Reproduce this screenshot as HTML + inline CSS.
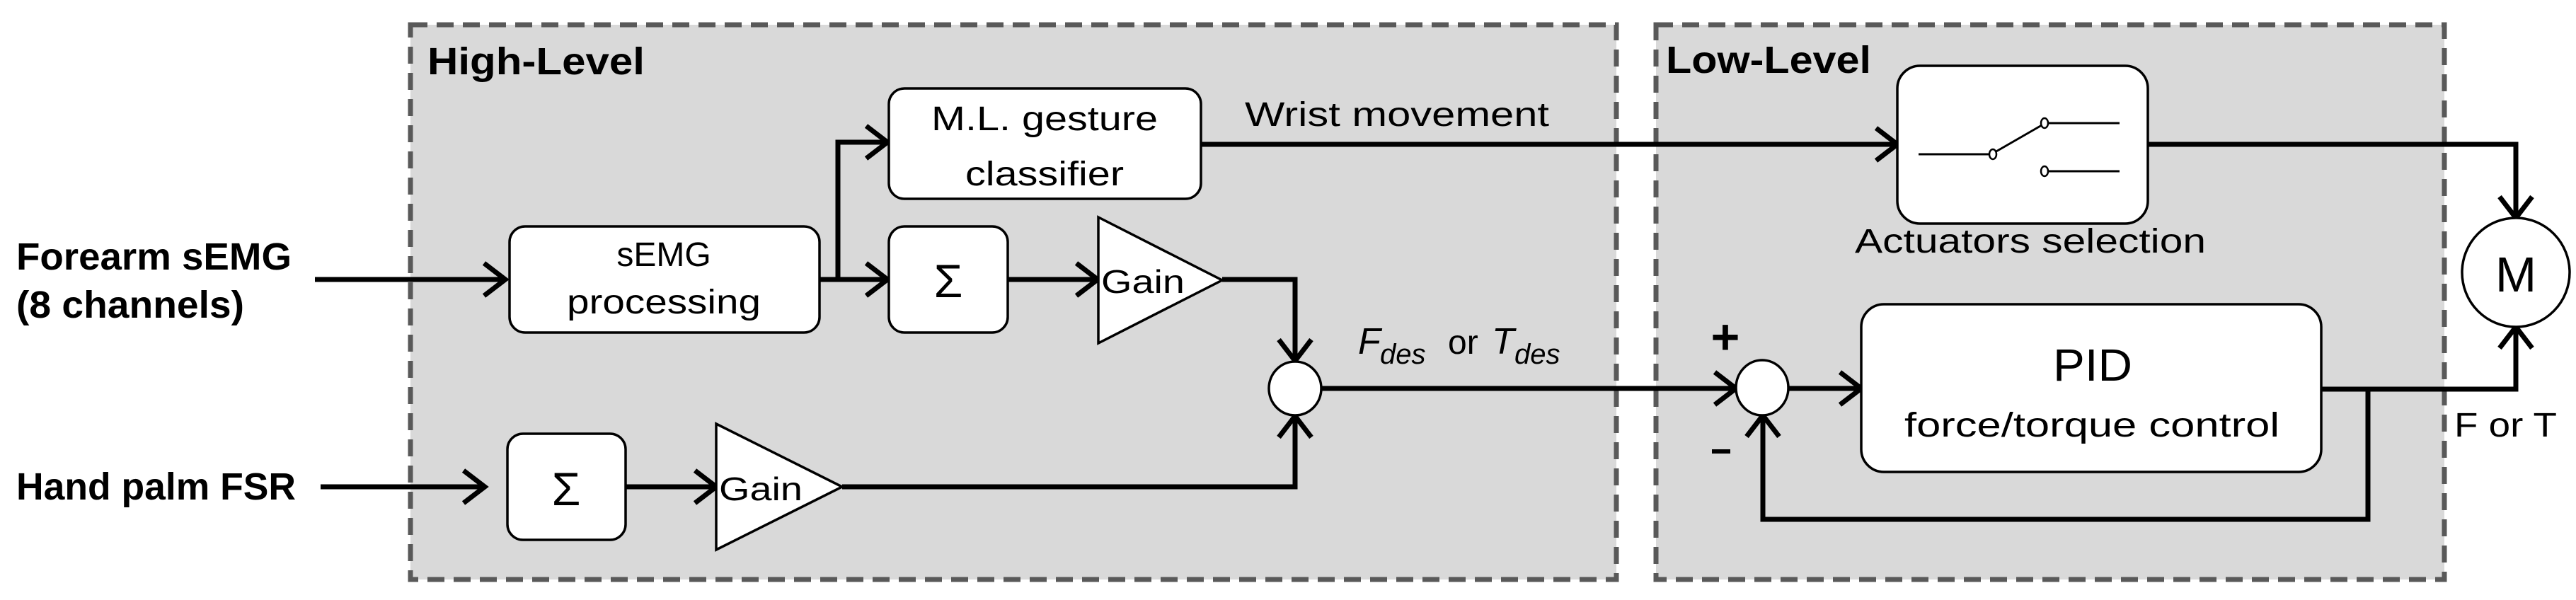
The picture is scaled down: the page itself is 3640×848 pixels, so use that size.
<!DOCTYPE html>
<html><head><meta charset="utf-8"><style>
html,body{margin:0;padding:0;background:#fff;}
svg{display:block;}
text{font-family:"Liberation Sans",sans-serif;fill:#000;}
</style></head><body>
<svg width="3640" height="848" viewBox="0 0 3640 848" xmlns="http://www.w3.org/2000/svg">
<!-- panels -->
<rect x="580" y="35" width="1704" height="784" fill="#d9d9d9" stroke="#595959" stroke-width="7" stroke-dasharray="24,13"/>
<rect x="2340" y="35" width="1114" height="784" fill="#d9d9d9" stroke="#595959" stroke-width="7" stroke-dasharray="24,13"/>
<text x="604" y="105" font-size="54" font-weight="bold" textLength="307" lengthAdjust="spacingAndGlyphs">High-Level</text>
<text x="2354" y="103" font-size="54" font-weight="bold" textLength="290" lengthAdjust="spacingAndGlyphs">Low-Level</text>

<!-- left labels -->
<text x="23" y="381" font-size="54" font-weight="bold" textLength="389" lengthAdjust="spacingAndGlyphs">Forearm sEMG</text>
<text x="23" y="449" font-size="54" font-weight="bold" textLength="322" lengthAdjust="spacingAndGlyphs">(8 channels)</text>
<text x="23" y="706" font-size="54" font-weight="bold" textLength="395" lengthAdjust="spacingAndGlyphs">Hand palm FSR</text>

<g fill="none" stroke="#000" stroke-width="7" stroke-linejoin="miter">
<!-- connectors -->
<line x1="445" y1="395" x2="714" y2="395"/>
<polyline points="1158,395 1250,395"/>
<polyline points="1184,395 1184,201 1250,201"/>
<line x1="1424" y1="395" x2="1548" y2="395"/>
<polyline points="1727,395 1830,395 1830,506"/>
<line x1="453" y1="688" x2="683" y2="688"/>
<line x1="884" y1="688" x2="1008" y2="688"/>
<polyline points="1190,688 1830,688 1830,592"/>
<line x1="1866" y1="549" x2="2449" y2="549"/>
<line x1="1697" y1="204" x2="2677" y2="204"/>
<polyline points="3035,204 3555,204 3555,304"/>
<line x1="2528" y1="549" x2="2626" y2="549"/>
<polyline points="3280,550 3555,550 3555,466"/>
<polyline points="3346,550 3346,734 2491,734 2491,592"/>
<!-- arrowheads -->
<polyline points="684,372 714,395 684,418"/>
<polyline points="1224,372 1254,395 1224,418"/>
<polyline points="1224,178 1254,201 1224,224"/>
<polyline points="1521,372 1551,395 1521,418"/>
<polyline points="1807,480 1830,510 1853,480"/>
<polyline points="655,665 685,688 655,711"/>
<polyline points="982,665 1012,688 982,711"/>
<polyline points="1807,618 1830,588 1853,618"/>
<polyline points="2423,526 2453,549 2423,572"/>
<polyline points="2651,181 2681,204 2651,227"/>
<polyline points="3532,278 3555,308 3578,278"/>
<polyline points="2600,526 2630,549 2600,572"/>
<polyline points="3532,492 3555,462 3578,492"/>
<polyline points="2468,617 2491,587 2514,617"/>
</g>

<!-- boxes -->
<g fill="#fff" stroke="#000" stroke-width="3.5">
<rect x="720" y="320" width="438" height="150" rx="22"/>
<rect x="1256" y="125" width="441" height="156" rx="22"/>
<rect x="1256" y="320" width="168" height="150" rx="22"/>
<rect x="717" y="613" width="167" height="150" rx="22"/>
<polygon points="1552,307 1727,396 1552,485"/>
<polygon points="1012,599 1190,688 1012,777"/>
<ellipse cx="1830" cy="549" rx="37" ry="38"/>
<ellipse cx="2490" cy="548" rx="37" ry="39"/>
<rect x="2681" y="93" width="354" height="223" rx="32"/>
<rect x="2630" y="430" width="650" height="237" rx="32"/>
<ellipse cx="3555" cy="385" rx="76" ry="77"/>
</g>

<!-- switch -->
<g stroke="#000" stroke-width="3" fill="none">
<line x1="2711" y1="218" x2="2812" y2="218"/>
<line x1="2819" y1="215" x2="2885" y2="177"/>
<line x1="2893" y1="174" x2="2995" y2="174"/>
<line x1="2893" y1="242" x2="2995" y2="242"/>
</g>
<g stroke="#000" stroke-width="2.5" fill="#fff">
<ellipse cx="2816" cy="218" rx="5" ry="7"/>
<ellipse cx="2889" cy="174" rx="5" ry="7"/>
<ellipse cx="2889" cy="242" rx="5" ry="7"/>
</g>

<!-- box texts -->
<g font-size="48" text-anchor="middle">
<text x="938" y="376">sEMG</text>
<text x="938" y="443" textLength="274" lengthAdjust="spacingAndGlyphs">processing</text>
<text x="1476" y="184" textLength="320" lengthAdjust="spacingAndGlyphs">M.L. gesture</text>
<text x="1476" y="262" textLength="224" lengthAdjust="spacingAndGlyphs">classifier</text>
<text x="1340" y="420" font-size="66" font-family="DejaVu Serif,serif">Σ</text>
<text x="800" y="714" font-size="66" font-family="DejaVu Serif,serif">Σ</text>
<text x="2869" y="357" textLength="496" lengthAdjust="spacingAndGlyphs">Actuators selection</text>
<text x="2957" y="538" font-size="64" textLength="112" lengthAdjust="spacingAndGlyphs">PID</text>
<text x="2956" y="617" textLength="530" lengthAdjust="spacingAndGlyphs">force/torque control</text>
<text x="3555" y="412" font-size="70">M</text>
</g>
<text x="1556" y="414" font-size="46" textLength="118" lengthAdjust="spacingAndGlyphs">Gain</text>
<text x="1016" y="707" font-size="46" textLength="118" lengthAdjust="spacingAndGlyphs">Gain</text>
<text x="1759" y="178" font-size="48" textLength="430" lengthAdjust="spacingAndGlyphs">Wrist movement</text>
<text x="3468" y="617" font-size="48" textLength="145" lengthAdjust="spacingAndGlyphs">F or T</text>

<!-- Fdes or Tdes -->
<g font-family="Liberation Serif,serif" font-style="italic">
<text x="1919" y="500" font-size="52">F</text>
<text x="1950" y="514" font-size="40">des</text>
<text x="2046" y="500" font-size="48" font-style="normal" font-family="Liberation Sans,sans-serif">or</text>
<text x="2108" y="500" font-size="52">T</text>
<text x="2140" y="514" font-size="40">des</text>
</g>
<text x="2438" y="500" font-size="70" font-weight="bold" text-anchor="middle">+</text>
<rect x="2419" y="635" width="26" height="6" fill="#000"/>
</svg>
</body></html>
